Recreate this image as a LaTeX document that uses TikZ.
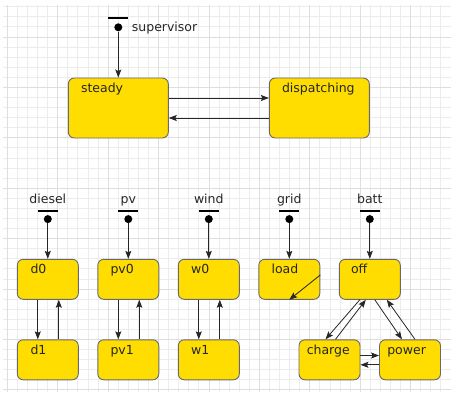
\documentclass[tikz,border=0pt]{standalone}
\usepackage{fontspec}
\setmainfont{DejaVu Sans}
\usetikzlibrary{arrows.meta}
\definecolor{stateyellow}{RGB}{255,221,0}
\definecolor{stateborder}{RGB}{105,105,105}
\definecolor{gridminor}{RGB}{236,236,236}
\definecolor{gridmajor}{RGB}{222,222,222}
\tikzstyle{bigstate} = [rectangle, rounded corners=6pt, minimum width=100pt, minimum height=60pt, inner sep=0pt, draw=stateborder, line width=0.9pt, fill=stateyellow]
\tikzstyle{state} = [bigstate, minimum width=61pt, minimum height=40pt]
\tikzstyle{statetext} = [anchor=base west, inner sep=0pt, text=black!85]
\tikzstyle{regiontext} = [anchor=base, inner sep=0pt, text=black!85]
\tikzstyle{initial} = [circle, fill=black, minimum size=8pt, inner sep=0pt]
\tikzstyle{initbar} = [rectangle, fill=black, minimum width=20pt, minimum height=2pt, inner sep=0pt]
\tikzstyle{arrow} = [line width=0.8pt, draw=black!85, -{Stealth[length=8pt,width=6pt,inset=1.5pt]}]

\begin{document}
\begin{tikzpicture}[x=1pt, y=-1pt, node distance=80.5pt, font=\fontsize{12.5}{15}\selectfont]
    \useasboundingbox (0,0) rectangle (451,399);

    % grid
    \foreach \k in {0,...,44}
        \draw [gridminor, line width=0.8pt] ({7.3+10.083*\k},5) -- ({7.3+10.083*\k},392);
    \foreach \k in {0,...,38}
        \draw [gridminor, line width=0.8pt] (3,{6.7+10.083*\k}) -- (451,{6.7+10.083*\k});
    \foreach \k in {0,...,8}
        \draw [gridmajor, line width=0.8pt] ({7.3+50.415*\k},5) -- ({7.3+50.415*\k},392);
    \foreach \k in {0,...,7}
        \draw [gridmajor, line width=0.8pt] (3,{36.95+50.415*\k}) -- (451,{36.95+50.415*\k});

    % supervisor
    \node (steady) [bigstate] at (118.3,108) {};
    \node (dispatching) [bigstate, right of=steady, xshift=120.5pt] {};
    \node (steady_text) [statetext] at ([xshift=13pt,yshift=-15pt]steady.north west) {steady};
    \node (dispatching_text) [statetext] at ([xshift=13pt,yshift=-15pt]dispatching.north west) {dispatching};

    \node (supervisor_init) [initial] at (118.3,27.3) {};
    \node (supervisor_bar) [initbar] at ([yshift=9pt]supervisor_init.center) {};
    \node (supervisor_text) [statetext] at ([xshift=13.4pt,yshift=-4.4pt]supervisor_init.center) {supervisor};

    \draw [arrow] (supervisor_init) -- (steady);
    \draw [arrow] ([yshift=10pt]steady.east) -- ([yshift=10pt]dispatching.west);
    \draw [arrow] ([yshift=-10pt]dispatching.west) -- ([yshift=-10pt]steady.east);

    % regions
    \node (d0) [state] at (47.8,279.3) {};
    \node (pv0) [state, right of=d0] {};
    \node (w0) [state, right of=pv0] {};
    \node (load) [state, right of=w0] {};
    \node (off) [state, right of=load] {};
    \node (d1) [state, below of=d0] {};
    \node (pv1) [state, below of=pv0] {};
    \node (w1) [state, below of=w0] {};
    \node (charge) [state, below of=off, xshift=-40.3pt] {};
    \node (power) [state, right of=charge] {};

    \node (d0_text) [statetext] at ([xshift=13.5pt,yshift=-15pt]d0.north west) {d0};
    \node (d1_text) [statetext] at ([xshift=13.5pt,yshift=-15pt]d1.north west) {d1};
    \node (pv0_text) [statetext] at ([xshift=13pt,yshift=-15pt]pv0.north west) {pv0};
    \node (pv1_text) [statetext] at ([xshift=13pt,yshift=-15pt]pv1.north west) {pv1};
    \node (w0_text) [statetext] at ([xshift=13pt,yshift=-15pt]w0.north west) {w0};
    \node (w1_text) [statetext] at ([xshift=13pt,yshift=-15pt]w1.north west) {w1};
    \node (load_text) [statetext] at ([xshift=13pt,yshift=-15pt]load.north west) {load};
    \node (off_text) [statetext] at ([xshift=12pt,yshift=-15pt]off.north west) {off};
    \node (charge_text) [statetext] at ([xshift=8pt,yshift=-15pt]charge.north west) {charge};
    \node (power_text) [statetext] at ([xshift=8pt,yshift=-15pt]power.north west) {power};

    \node (diesel_init) [initial, above of=d0, yshift=-20.3pt] {};
    \node (pv_init) [initial, above of=pv0, yshift=-20.3pt] {};
    \node (wind_init) [initial, above of=w0, yshift=-20.3pt] {};
    \node (grid_init) [initial, above of=load, yshift=-20.3pt] {};
    \node (batt_init) [initial, above of=off, yshift=-20.3pt] {};

    \node (diesel_bar) [initbar] at ([yshift=8.4pt]diesel_init.center) {};
    \node (pv_bar) [initbar] at ([yshift=8.4pt]pv_init.center) {};
    \node (wind_bar) [initbar] at ([yshift=8.4pt]wind_init.center) {};
    \node (grid_bar) [initbar] at ([yshift=8.4pt]grid_init.center) {};
    \node (batt_bar) [initbar] at ([yshift=8.4pt]batt_init.center) {};

    \node (diesel_text) [regiontext] at ([yshift=7.5pt]diesel_bar.center) {diesel};
    \node (pv_text) [regiontext] at ([yshift=7.5pt]pv_bar.center) {pv};
    \node (wind_text) [regiontext] at ([yshift=7.5pt]wind_bar.center) {wind};
    \node (grid_text) [regiontext] at ([yshift=7.5pt]grid_bar.center) {grid};
    \node (batt_text) [regiontext] at ([yshift=7.5pt]batt_bar.center) {batt};

    \draw [arrow] (diesel_init) -- (d0);
    \draw [arrow] (pv_init) -- (pv0);
    \draw [arrow] (wind_init) -- (w0);
    \draw [arrow] (grid_init) -- (load);
    \draw [arrow] (batt_init) -- (off);

    \draw [arrow] ([xshift=-10pt]d0.south) -- ([xshift=-10pt]d1.north);
    \draw [arrow] ([xshift=11pt]d1.north) -- ([xshift=11pt]d0.south);
    \draw [arrow] ([xshift=-10pt]pv0.south) -- ([xshift=-10pt]pv1.north);
    \draw [arrow] ([xshift=11pt]pv1.north) -- ([xshift=11pt]pv0.south);
    \draw [arrow] ([xshift=-10pt]w0.south) -- ([xshift=-10pt]w1.north);
    \draw [arrow] ([xshift=11pt]w1.north) -- ([xshift=11pt]w0.south);

    \draw [arrow] ([yshift=4.3pt]load.east) -- (load.south);

    \draw [arrow] ([xshift=-10pt]off.south) -- ([xshift=-4pt]charge.north);
    \draw [arrow] ([xshift=6pt]charge.north) -- ([xshift=-4pt]off.south);
    \draw [arrow] ([xshift=5pt]off.south) -- ([xshift=-8pt]power.north);
    \draw [arrow] ([xshift=5pt]power.north) -- ([xshift=17pt]off.south);
    \draw [arrow] ([yshift=4.3pt]charge.east) -- ([yshift=4.3pt]power.west);
    \draw [arrow] ([yshift=-5pt]power.west) -- ([yshift=-5pt]charge.east);

\end{tikzpicture}
\end{document}
